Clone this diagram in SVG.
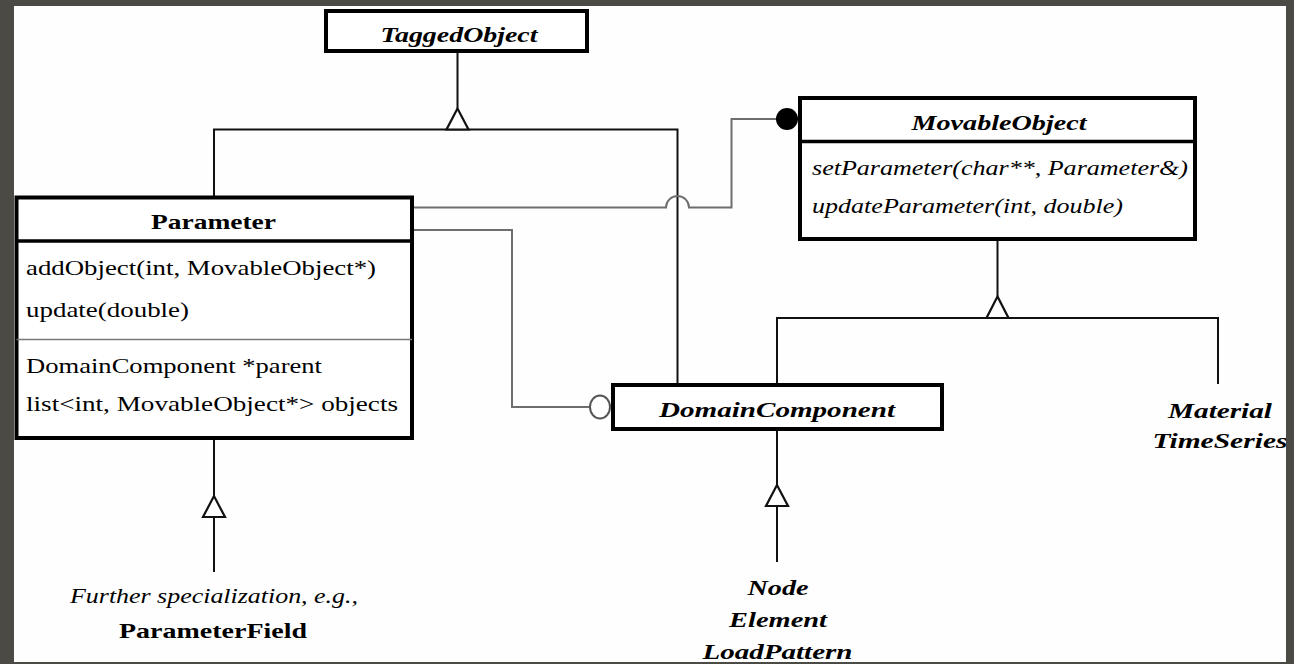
<svg xmlns="http://www.w3.org/2000/svg" width="1294" height="664" viewBox="0 0 1294 664">
<style>
.box{fill:#ffffff;stroke:#000;stroke-width:4}
.hdr{stroke:#000;stroke-width:3.5}
.thin{stroke:#777;stroke-width:1.5}
.inh{fill:none;stroke:#111;stroke-width:2}
.tri{fill:#fff;stroke:#111;stroke-width:2.2;stroke-linejoin:miter}
.asc{fill:none;stroke:#6e6e6e;stroke-width:2}
text{font-family:'Liberation Serif','DejaVu Serif',serif;font-size:22px;fill:#000}
.bi{font-weight:bold;font-style:italic}
.b{font-weight:bold}
.i{font-style:italic}
.c{text-anchor:middle}
</style>
<rect x="0" y="0" width="1294" height="664" fill="#4b4a44"/>
<rect x="14" y="6" width="1272" height="656" fill="#fefefe"/>

<g id="connectors">
  <path class="inh" d="M457.5,53 V108.5 M214,196 V129.5 H677.5 V384"/>
  <polygon class="tri" points="457.5,108.5 446.5,129.5 468.5,129.5"/>
  <path class="inh" d="M997.5,241 V296.5 M777,384 V318 H1218 V384"/>
  <polygon class="tri" points="997.5,296.5 986.5,318 1008.5,318"/>
  <path class="inh" d="M777,431 V485 M777,506 V562"/>
  <polygon class="tri" points="777,485 766,506 788,506"/>
  <path class="inh" d="M214,440 V496 M214,517 V572"/>
  <polygon class="tri" points="214,496 203,517 225,517"/>
  <path class="asc" d="M414,207.5 H666 A11.5,11.5 0 0 1 689,207.5 H731.5 V119 H777"/>
  <circle cx="787" cy="119" r="11" fill="#000"/>
  <path class="asc" d="M414,230 H512 V407 H590"/>
  <ellipse cx="600" cy="407" rx="10" ry="11.5" fill="#fff" stroke="#555" stroke-width="2"/>
</g>

<g id="TaggedObject">
  <rect class="box" x="326" y="11" width="261" height="40"/>
  <text class="bi c" x="459" y="41.5" textLength="157" lengthAdjust="spacingAndGlyphs">TaggedObject</text>
</g>

<g id="MovableObject">
  <rect class="box" x="800" y="98" width="395" height="141"/>
  <line class="hdr" x1="800" y1="141.5" x2="1195" y2="141.5"/>
  <text class="bi c" x="999" y="130" textLength="175" lengthAdjust="spacingAndGlyphs">MovableObject</text>
  <text class="i" x="812" y="175" textLength="376" lengthAdjust="spacingAndGlyphs">setParameter(char**, Parameter&amp;)</text>
  <text class="i" x="812" y="213" textLength="311" lengthAdjust="spacingAndGlyphs">updateParameter(int, double)</text>
</g>

<g id="Parameter">
  <rect class="box" x="16.5" y="197.5" width="395.5" height="240.5"/>
  <line class="hdr" x1="16.5" y1="241" x2="412" y2="241"/>
  <line class="thin" x1="16.5" y1="339.5" x2="412" y2="339.5"/>
  <text class="b c" x="213.5" y="229" textLength="125" lengthAdjust="spacingAndGlyphs">Parameter</text>
  <text x="26" y="275" textLength="350" lengthAdjust="spacingAndGlyphs">addObject(int, MovableObject*)</text>
  <text x="26" y="317" textLength="163" lengthAdjust="spacingAndGlyphs">update(double)</text>
  <text x="26" y="373" textLength="296" lengthAdjust="spacingAndGlyphs">DomainComponent *parent</text>
  <text x="26" y="411" textLength="372" lengthAdjust="spacingAndGlyphs">list&lt;int, MovableObject*&gt; objects</text>
</g>

<g id="DomainComponent">
  <rect class="box" x="613" y="385" width="329" height="44"/>
  <text class="bi c" x="777" y="416.5" textLength="236" lengthAdjust="spacingAndGlyphs">DomainComponent</text>
</g>

<g id="MaterialTimeSeries">
  <text class="bi c" x="1220" y="418" textLength="104" lengthAdjust="spacingAndGlyphs">Material</text>
  <text class="bi c" x="1220" y="448" textLength="135" lengthAdjust="spacingAndGlyphs">TimeSeries</text>
</g>

<g id="NodeElementLoadPattern">
  <text class="bi c" x="778" y="595" textLength="61" lengthAdjust="spacingAndGlyphs">Node</text>
  <text class="bi c" x="778" y="627" textLength="98" lengthAdjust="spacingAndGlyphs">Element</text>
  <text class="bi c" x="777.5" y="659" textLength="150" lengthAdjust="spacingAndGlyphs">LoadPattern</text>
</g>

<g id="ParameterField">
  <text class="i c" x="214" y="603" textLength="288" lengthAdjust="spacingAndGlyphs">Further specialization, e.g.,</text>
  <text class="b c" x="213" y="638" textLength="188" lengthAdjust="spacingAndGlyphs">ParameterField</text>
</g>

<path fill="#4b4a44" fill-rule="evenodd" d="M0,0 H1294 V664 H0 Z M14,6 V662 H1286 V6 Z"/>
</svg>
